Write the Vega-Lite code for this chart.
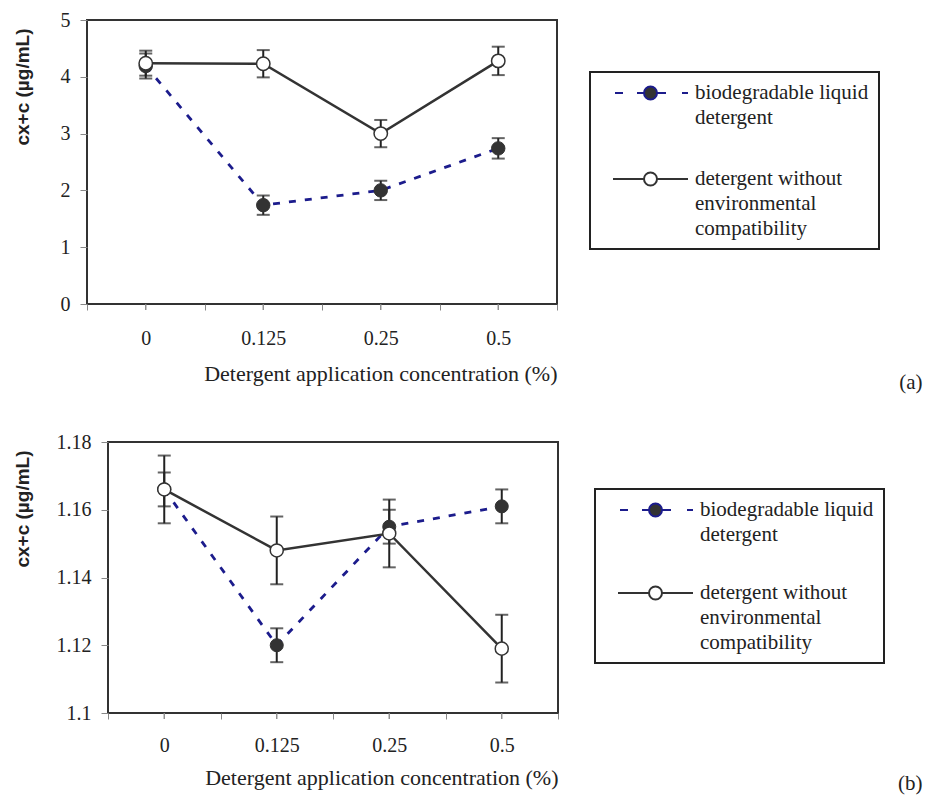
{
  "$schema": "https://vega.github.io/schema/vega-lite/v6.json",
  "background": "white",
  "padding": {"left": 11, "top": 9, "right": 0, "bottom": 0},
  "spacing": 37,
  "resolve": {"scale": {"shape": "independent", "fill": "independent", "stroke": "independent"}, "legend": {"shape": "independent", "fill": "independent", "stroke": "independent"}},
  "config": {
    "view": {"stroke": "#333333", "strokeWidth": 2},
    "axis": {"domain": false, "grid": false, "tickColor": "#888888", "tickWidth": 1, "labelFont": "Liberation Serif", "labelFontSize": 20, "labelColor": "#222222", "titleColor": "#222222", "titleFont": "Liberation Serif", "titleFontSize": 22, "titleFontWeight": "normal"},
    "axisY": {"titleFont": "Liberation Sans", "titleFontWeight": "bold", "titleFontSize": 19, "tickSize": 7, "labelPadding": 10},
    "legend": {"orient": "none", "labelFont": "Liberation Serif", "labelFontSize": 21, "labelColor": "#222222", "labelLimit": 400, "labelBaseline": "middle", "labelOffset": 73, "symbolOffset": 0, "symbolSize": 400, "symbolStrokeWidth": 2, "strokeColor": "#222222", "strokeWidth": 2, "padding": 10},
    "style": {"guide-label": {"lineHeight": 25}}
  },
  "vconcat": [
    {"spacing": 0, "hconcat": [
    {"width": 1, "height": 1, "view": {"stroke": null}, "data": {"values": []}, "mark": "point"},
    {
      "width": 470,
      "height": 284,
      "title": {"text": "(a)", "orient": "bottom", "anchor": "end", "frame": "bounds", "offset": -13, "dx": 365, "font": "Liberation Serif", "fontSize": 21, "fontWeight": "normal", "color": "#222222"},
      "data": {"values": [
        {"conc": "0", "series": "biodegradable liquid detergent", "value": 4.19, "err": 0.22},
        {"conc": "0.125", "series": "biodegradable liquid detergent", "value": 1.74, "err": 0.17},
        {"conc": "0.25", "series": "biodegradable liquid detergent", "value": 2.0, "err": 0.17},
        {"conc": "0.5", "series": "biodegradable liquid detergent", "value": 2.74, "err": 0.18},
        {"conc": "0", "series": "detergent without environmental compatibility", "value": 4.24, "err": 0.22},
        {"conc": "0.125", "series": "detergent without environmental compatibility", "value": 4.23, "err": 0.24},
        {"conc": "0.25", "series": "detergent without environmental compatibility", "value": 3.0, "err": 0.24},
        {"conc": "0.5", "series": "detergent without environmental compatibility", "value": 4.28, "err": 0.25}
      ]},
      "encoding": {
        "x": {"field": "conc", "type": "nominal", "sort": null, "scale": {"type": "band", "domain": ["0", "0.125", "0.25", "0.5"], "paddingInner": 0, "paddingOuter": 0}, "axis": {"title": "Detergent application concentration (%)", "titleAnchor": "end", "labelAngle": 0, "tickBand": "extent", "tickSize": 6, "labelPadding": 18, "titlePadding": 15.5}},
        "y": {"field": "value", "type": "quantitative", "scale": {"domain": [0, 5], "nice": false}, "axis": {"title": "cx+c (µg/mL)", "values": [0, 1, 2, 3, 4, 5], "format": "d", "titlePadding": 27.5, "titleAnchor": "end", "titleY": 8}}
      },
      "layer": [
        {"transform": [{"filter": "datum.series === 'biodegradable liquid detergent'"}], "mark": {"type": "line", "color": "#1c1c8c", "strokeDash": [7, 9], "strokeWidth": 2.8}},
        {"transform": [{"filter": "datum.series === 'detergent without environmental compatibility'"}], "mark": {"type": "line", "color": "#333333", "strokeWidth": 2.5}},
        {"mark": {"type": "errorbar", "color": "#222222", "thickness": 2, "ticks": {"size": 13, "thickness": 2}}, "encoding": {"yError": {"field": "err"}, "detail": {"field": "series"}}},
        {"transform": [{"filter": "datum.series === 'biodegradable liquid detergent'"}], "mark": {"type": "point", "filled": true, "fill": "#333333", "stroke": "#333333", "strokeWidth": 1, "size": 180, "opacity": 1}},
        {"transform": [{"filter": "datum.series === 'detergent without environmental compatibility'"}], "mark": {"type": "point", "filled": true, "fill": "#ffffff", "stroke": "#333333", "strokeWidth": 1.5, "size": 180, "opacity": 1}},
        {"mark": {"type": "tick", "orient": "vertical", "size": 6, "thickness": 1, "color": "#888888", "opacity": 1, "yOffset": 3}, "encoding": {"y": {"datum": 0, "type": "quantitative"}}},
        {"transform": [{"filter": "false"}], "mark": {"type": "point", "filled": true, "opacity": 1, "strokeWidth": 2},
         "encoding": {
           "shape": {"field": "series", "type": "nominal", "scale": {"domain": ["biodegradable liquid detergent", "detergent without environmental compatibility"], "range": ["M 0.4 0 H 1.2 M 2.6 0 H 3.3 M 4.6 0 H 5.5 M 7.1 0 H 7.7 M 4.6 0 A 0.65 0.65 0 1 1 3.3 0 A 0.65 0.65 0 1 1 4.6 0 Z", "M 0.2 0 H 3.3 M 4.6 0 H 7.7 M 4.6 0 A 0.65 0.65 0 1 1 3.3 0 A 0.65 0.65 0 1 1 4.6 0 Z"]}, "legend": {"title": null, "legendX": 579, "legendY": 52, "rowPadding": 40, "labelExpr": "datum.label == 'biodegradable liquid detergent' ? ['biodegradable liquid', 'detergent'] : ['detergent without', 'environmental', 'compatibility']"}},
           "fill": {"field": "series", "type": "nominal", "scale": {"domain": ["biodegradable liquid detergent", "detergent without environmental compatibility"], "range": ["#333333", "#ffffff"]}},
           "stroke": {"field": "series", "type": "nominal", "scale": {"domain": ["biodegradable liquid detergent", "detergent without environmental compatibility"], "range": ["#1c1c8c", "#333333"]}}
         }}
      ]
    }
    ]},
    {"spacing": 0, "hconcat": [
    {"width": 1, "height": 1, "view": {"stroke": null}, "data": {"values": []}, "mark": "point"},
    {
      "width": 450,
      "height": 271,
      "title": {"text": "(b)", "orient": "bottom", "anchor": "end", "frame": "bounds", "offset": -15, "dx": 364, "font": "Liberation Serif", "fontSize": 21, "fontWeight": "normal", "color": "#222222"},
      "data": {"values": [
        {"conc": "0", "series": "biodegradable liquid detergent", "value": 1.166, "err": 0.005},
        {"conc": "0.125", "series": "biodegradable liquid detergent", "value": 1.12, "err": 0.005},
        {"conc": "0.25", "series": "biodegradable liquid detergent", "value": 1.155, "err": 0.005},
        {"conc": "0.5", "series": "biodegradable liquid detergent", "value": 1.161, "err": 0.005},
        {"conc": "0", "series": "detergent without environmental compatibility", "value": 1.166, "err": 0.01},
        {"conc": "0.125", "series": "detergent without environmental compatibility", "value": 1.148, "err": 0.01},
        {"conc": "0.25", "series": "detergent without environmental compatibility", "value": 1.153, "err": 0.01},
        {"conc": "0.5", "series": "detergent without environmental compatibility", "value": 1.119, "err": 0.01}
      ]},
      "encoding": {
        "x": {"field": "conc", "type": "nominal", "sort": null, "scale": {"type": "band", "domain": ["0", "0.125", "0.25", "0.5"], "paddingInner": 0, "paddingOuter": 0}, "axis": {"title": "Detergent application concentration (%)", "titleAnchor": "end", "labelAngle": 0, "tickBand": "extent", "tickSize": 6, "labelPadding": 16.5, "titlePadding": 11.5}},
        "y": {"field": "value", "type": "quantitative", "scale": {"domain": [1.1, 1.18], "nice": false, "zero": false}, "axis": {"title": "cx+c (µg/mL)", "values": [1.1, 1.12, 1.14, 1.16, 1.18], "format": ".2~f", "titlePadding": 23.5, "titleAnchor": "end", "titleY": 8}}
      },
      "layer": [
        {"transform": [{"filter": "datum.series === 'biodegradable liquid detergent'"}], "mark": {"type": "line", "color": "#1c1c8c", "strokeDash": [7, 9], "strokeWidth": 2.8}},
        {"transform": [{"filter": "datum.series === 'detergent without environmental compatibility'"}], "mark": {"type": "line", "color": "#333333", "strokeWidth": 2.5}},
        {"mark": {"type": "errorbar", "color": "#222222", "thickness": 2, "ticks": {"size": 13, "thickness": 2}}, "encoding": {"yError": {"field": "err"}, "detail": {"field": "series"}}},
        {"transform": [{"filter": "datum.series === 'biodegradable liquid detergent'"}], "mark": {"type": "point", "filled": true, "fill": "#333333", "stroke": "#333333", "strokeWidth": 1, "size": 170, "opacity": 1}},
        {"transform": [{"filter": "datum.series === 'detergent without environmental compatibility'"}], "mark": {"type": "point", "filled": true, "fill": "#ffffff", "stroke": "#333333", "strokeWidth": 1.5, "size": 170, "opacity": 1}},
        {"mark": {"type": "tick", "orient": "vertical", "size": 6, "thickness": 1, "color": "#888888", "opacity": 1, "yOffset": 3}, "encoding": {"y": {"datum": 1.1, "type": "quantitative"}}},
        {"transform": [{"filter": "false"}], "mark": {"type": "point", "filled": true, "opacity": 1, "strokeWidth": 2},
         "encoding": {
           "shape": {"field": "series", "type": "nominal", "scale": {"domain": ["biodegradable liquid detergent", "detergent without environmental compatibility"], "range": ["M 0.4 0 H 1.2 M 2.6 0 H 3.3 M 4.6 0 H 5.5 M 7.1 0 H 7.7 M 4.6 0 A 0.65 0.65 0 1 1 3.3 0 A 0.65 0.65 0 1 1 4.6 0 Z", "M 0.2 0 H 3.3 M 4.6 0 H 7.7 M 4.6 0 A 0.65 0.65 0 1 1 3.3 0 A 0.65 0.65 0 1 1 4.6 0 Z"]}, "legend": {"title": null, "legendX": 584, "legendY": 47, "rowPadding": 37, "labelExpr": "datum.label == 'biodegradable liquid detergent' ? ['biodegradable liquid', 'detergent'] : ['detergent without', 'environmental', 'compatibility']"}},
           "fill": {"field": "series", "type": "nominal", "scale": {"domain": ["biodegradable liquid detergent", "detergent without environmental compatibility"], "range": ["#333333", "#ffffff"]}},
           "stroke": {"field": "series", "type": "nominal", "scale": {"domain": ["biodegradable liquid detergent", "detergent without environmental compatibility"], "range": ["#1c1c8c", "#333333"]}}
         }}
      ]
    }
    ]}
  ]
}
